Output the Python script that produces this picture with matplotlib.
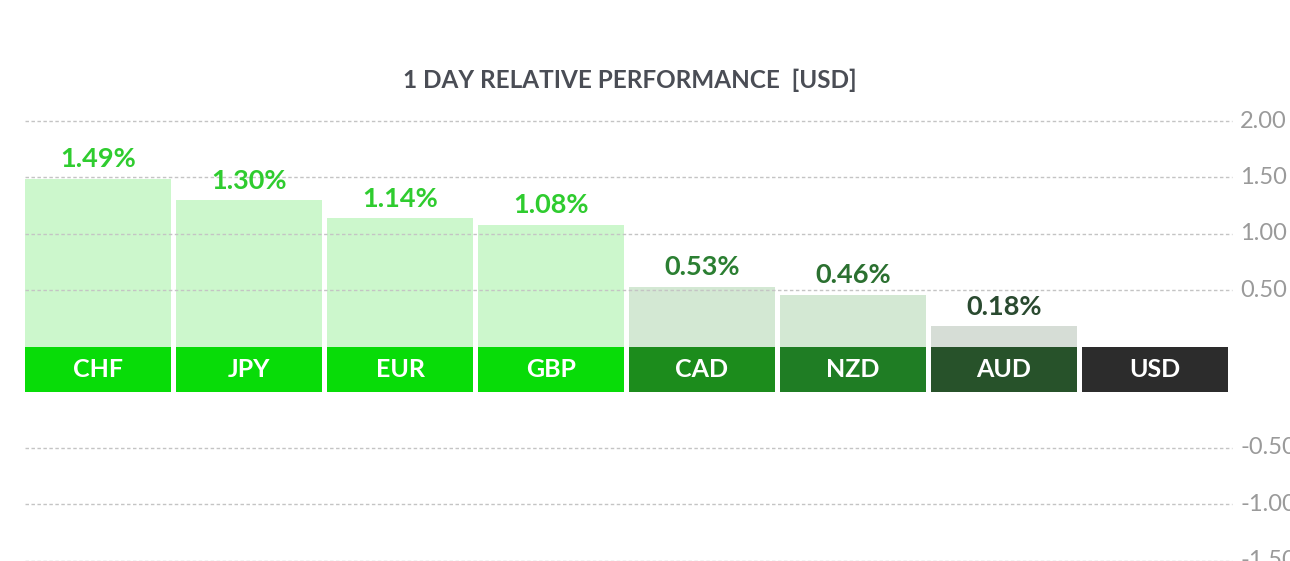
import matplotlib
matplotlib.use("Agg")
import matplotlib.pyplot as plt

currencies = ['CHF', 'JPY', 'EUR', 'GBP', 'CAD', 'NZD', 'AUD', 'USD']
values = [1.49, 1.30, 1.14, 1.08, 0.53, 0.46, 0.18, 0.0]
tick_values = [2.0, 1.5, 1.0, 0.5, -0.5, -1.0, -1.5]
tick_labels = ['2.00', '1.50', '1.00', '0.50', '-0.50', '-1.00', '-1.50']

bar_colors = ['#ccf7cc', '#ccf7cc', '#ccf7cc', '#ccf7cc', '#d3e8d3', '#d3e8d3', '#d6ddd6', '#dddddd']
band_colors = ['#08dc08', '#08dc08', '#08dc08', '#08dc08', '#1c8c1c', '#1f7d24', '#27522a', '#2c2c2c']
text_colors = ['#2fcc2f', '#2fcc2f', '#2fcc2f', '#2fcc2f', '#2b7f32', '#2b7030', '#2a4a30', '#2c2c2c']

plt.rcParams['font.family'] = ['Lato', 'DejaVu Sans']

BAND = 0.40  # height of the label band, in value units

def ypos(v):
    return v if v >= 0 else v - BAND

fig = plt.figure(figsize=(12.9, 5.61), dpi=100)
ax = fig.add_axes([0, 0, 1, 1])
ax.set_xlim(-98 / 151, (1290 - 98) / 151)
ax.set_ylim(-(561 - 346.5) / 112.7, 346.5 / 112.7)
ax.axis('off')

x = list(range(len(currencies)))
w = 146 / 151

ax.bar(x, values, width=w, color=bar_colors, zorder=1)
ax.bar(x, [-BAND] * len(x), width=w, color=band_colors, zorder=3)

gx0, gx1 = (25 - 98) / 151, (1232 - 98) / 151
for tv, tl in zip(tick_values, tick_labels):
    y = ypos(tv)
    ax.plot([gx0, gx1], [y, y], color='#c4c4c4', lw=1.0, linestyle=(0, (2.5, 1.8)), zorder=2)
    ax.text((1240 - 98) / 151, y, tl, ha='left', va='center', fontsize=17,
            color='#9a9a9a', clip_on=False)

for i, (c, v) in enumerate(zip(currencies, values)):
    ax.text(i, -BAND / 2, c, ha='center', va='center', fontsize=18, fontweight='bold',
            color='white', zorder=4)
    if v > 0:
        ax.text(i, v + 0.065, f'{v:.2f}%', ha='center', va='bottom', fontsize=19.5,
                fontweight='bold', color=text_colors[i], zorder=4)

fig.text(630 / 1290, 1 - 80 / 561, '1 DAY RELATIVE PERFORMANCE  [USD]', ha='center',
         va='center', fontsize=17.5, fontweight='bold', color='#4a4d55')

fig.savefig('out.png', dpi=100)
